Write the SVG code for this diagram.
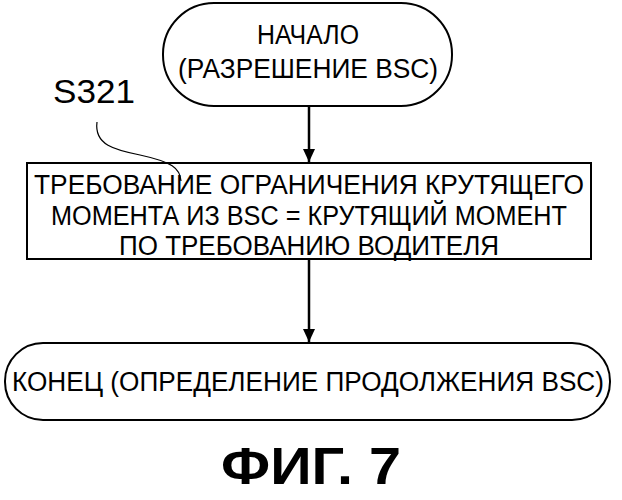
<svg xmlns="http://www.w3.org/2000/svg" width="622" height="500" viewBox="0 0 622 500">
<style>
.s{fill:#fff;stroke:#000;stroke-width:2}
.t{font-family:"Liberation Sans",Arial,sans-serif;font-size:27px;text-anchor:middle;fill:#000}
.c{stroke:#000;stroke-width:2.5;fill:none}
</style>
<defs><marker id="a" markerWidth="14" markerHeight="14" refX="13" refY="6" orient="auto" markerUnits="userSpaceOnUse"><path d="M0,0L13,6L0,12Z"/></marker></defs>
<rect width="622" height="500" fill="#fff"/>
<g id="start"><rect class="s" x="163" y="3" width="289" height="103" rx="51"/>
<text class="t" x="308" y="44" textLength="102" lengthAdjust="spacingAndGlyphs">НАЧАЛО</text><text class="t" x="308" y="78" textLength="260" lengthAdjust="spacingAndGlyphs">(РАЗРЕШЕНИЕ BSC)</text></g>
<g id="s321"><rect class="s" x="27" y="163" width="564" height="96"/>
<text class="t" x="309" y="194" textLength="550" lengthAdjust="spacingAndGlyphs">ТРЕБОВАНИЕ ОГРАНИЧЕНИЯ КРУТЯЩЕГО</text>
<text class="t" x="309" y="225" textLength="516" lengthAdjust="spacingAndGlyphs">МОМЕНТА ИЗ BSC = КРУТЯЩИЙ МОМЕНТ</text>
<text class="t" x="309" y="255" textLength="380" lengthAdjust="spacingAndGlyphs">ПО ТРЕБОВАНИЮ ВОДИТЕЛЯ</text></g>
<g id="label"><text x="53" y="103" textLength="82" lengthAdjust="spacingAndGlyphs" style="font-family:'Liberation Sans',Arial,sans-serif;font-size:34px">S321</text>
<path d="M97,122C94,145 115,150 140,155C172,162 180,168 181,181" fill="none" stroke="#000" stroke-width="1.2"/></g>
<g id="end"><rect class="s" x="5" y="343" width="605" height="77" rx="38"/>
<text class="t" x="308" y="391" textLength="592" lengthAdjust="spacingAndGlyphs">КОНЕЦ (ОПРЕДЕЛЕНИЕ ПРОДОЛЖЕНИЯ BSC)</text></g>
<g id="connectors">
<line class="c" x1="309" y1="106" x2="309" y2="162" marker-end="url(#a)"/>
<line class="c" x1="309" y1="259" x2="309" y2="342" marker-end="url(#a)"/>
</g>
<text x="311" y="484" textLength="180" lengthAdjust="spacingAndGlyphs" style="font-family:'Liberation Sans',Arial,sans-serif;font-size:52px;font-weight:bold;text-anchor:middle">ФИГ. 7</text>
</svg>
